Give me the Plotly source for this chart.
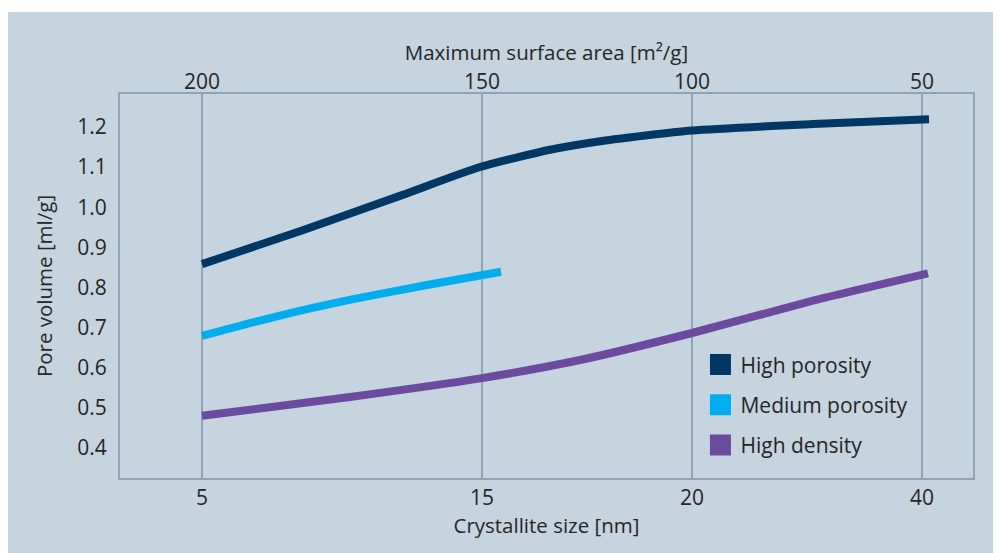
import plotly.graph_objects as go

# x positions are in "chart units": the printed scale is not linear,
# so the four tick marks sit at fixed positions along the axis
tick_pos = [0, 280, 490, 720]
size_labels = ["5", "15", "20", "40"]          # crystallite size [nm]
area_labels = ["200", "150", "100", "50"]      # maximum surface area [m²/g]

hp_x = [0, 100, 200, 278, 348, 400, 490, 611, 727]
hp_y = [0.858, 0.942, 1.030, 1.100, 1.143, 1.165, 1.191, 1.207, 1.219]

mp_x = [0, 75, 150, 225, 299]
mp_y = [0.679, 0.728, 0.770, 0.806, 0.839]

hd_x = [0, 148, 280, 378, 491, 611, 726]
hd_y = [0.480, 0.527, 0.574, 0.619, 0.687, 0.767, 0.835]

names = ["High porosity", "Medium porosity", "High density"]
colors = ["#003764", "#00aeef", "#6c4a9e"]

panel = "#c5d4df"
grid = "#8ea4b9"
txt = "#262626"
font = "Open Sans"

fig = go.Figure()

for xs, ys, c in zip([hp_x, mp_x, hd_x], [hp_y, mp_y, hd_y], colors):
    fig.add_trace(go.Scatter(
        x=xs, y=ys, mode="lines",
        line=dict(color=c, width=8, shape="spline", smoothing=0.6),
        showlegend=False, hoverinfo="skip",
    ))

# square legend swatches (also keeps the top axis alive)
for n, c in zip(names, colors):
    fig.add_trace(go.Scatter(
        x=[None], y=[None], xaxis="x2", mode="markers", name=n, legendgroup=n,
        marker=dict(symbol="square", size=16, color=c, line=dict(color=c, width=6)),
    ))

fig.add_shape(type="rect", xref="paper", yref="paper",
              x0=-0.2, x1=1.1, y0=-0.3, y1=1.2135,
              fillcolor=panel, line_width=0, layer="below")

title_font = dict(family=font, size=20.5, color=txt)

fig.update_layout(
    width=1001, height=553,
    margin=dict(l=112, r=36, t=86, b=83),
    paper_bgcolor="white",
    plot_bgcolor=panel,
    font=dict(family=font, size=21, color=txt),
    xaxis=dict(
        range=[-82, 771], tickvals=tick_pos, ticktext=size_labels,
        showgrid=True, gridcolor=grid, gridwidth=1.5,
        showline=True, linecolor=grid, linewidth=2, mirror=True,
        zeroline=False, ticks="",
        title=dict(text="Crystallite size [nm]", standoff=4, font=title_font),
    ),
    xaxis2=dict(
        overlaying="x", side="top", matches="x",
        range=[-82, 771], tickvals=tick_pos, ticktext=area_labels,
        showgrid=False, zeroline=False, ticks="", ticklabelstandoff=0,
        title=dict(text="Maximum surface area [m²/g]", standoff=0, font=title_font),
    ),
    yaxis=dict(
        range=[0.325, 1.282],
        tickvals=[0.4, 0.5, 0.6, 0.7, 0.8, 0.9, 1.0, 1.1, 1.2],
        ticktext=["0.4", "0.5", "0.6", "0.7", "0.8", "0.9", "1.0", "1.1", "1.2"],
        showgrid=False, zeroline=False, ticks="", ticklabelstandoff=7,
        showline=True, linecolor=grid, linewidth=2, mirror=True,
        title=dict(text="Pore volume [ml/g]", standoff=19, font=title_font),
    ),
    legend=dict(
        x=0.6805, y=0.348, xanchor="left", yanchor="top",
        bgcolor="rgba(0,0,0,0)", tracegroupgap=10,
        font=dict(size=21, color=txt),
    ),
)

fig.write_html("out.html")
